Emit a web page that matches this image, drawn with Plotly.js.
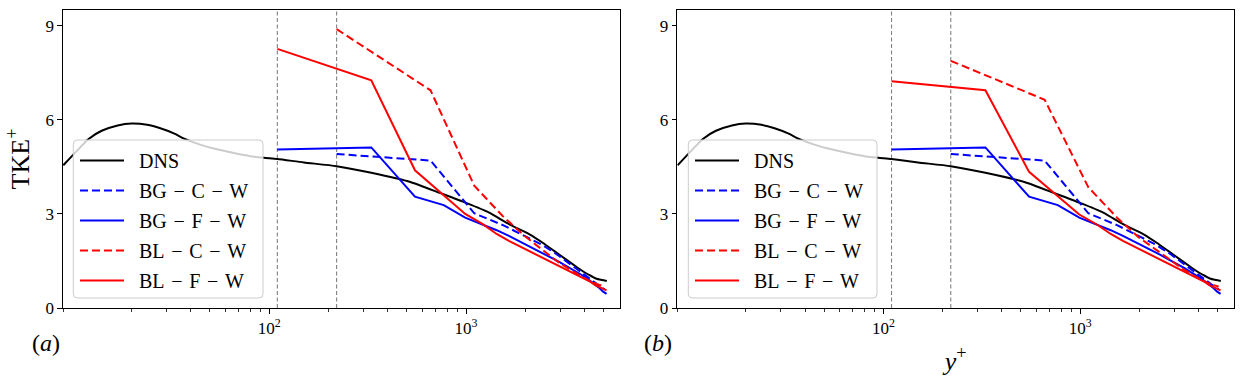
<!DOCTYPE html>
<html>
<head>
<meta charset="utf-8">
<script src="https://cdn.plot.ly/plotly-3.0.1.min.js"></script>
<style>
  html, body { margin: 0; padding: 0; background: #fff; }
  #chart { width: 1245px; height: 384px; }
</style>
</head>
<body>
<div id="chart"></div>
<script>
// ---------------- data ----------------
// DNS profile (shared by both panels)
const dnsYplus = [9.0, 10.7, 12.1, 14.1, 17, 20, 24, 28, 33, 37, 45, 55, 67, 80, 94, 110, 150, 220, 330, 525, 734, 1000, 1310, 1600, 1790, 2100, 2450, 2800, 3200, 3600, 3900, 4200, 4560, 4900, 5186];
const dnsTKE   = [4.55, 5.05, 5.39, 5.65, 5.82, 5.88, 5.84, 5.73, 5.56, 5.40, 5.20, 5.05, 4.93, 4.84, 4.79, 4.75, 4.64, 4.52, 4.31, 4.01, 3.67, 3.35, 3.04, 2.72, 2.56, 2.35, 2.08, 1.82, 1.56, 1.33, 1.18, 1.06, 0.94, 0.89, 0.86];

// wall-model grid locations (fine: F, coarse: C)
const fineYplus   = [110, 330, 550, 770, 990, 1210, 1430, 1650, 1870, 2090, 2310, 2530, 2750, 2970, 3190, 3410, 3630, 3850, 4070, 4290, 4510, 4730, 4950, 5170];
const coarseYplus = [220, 660, 1100, 1540, 1980, 2420, 2860, 3300, 3740, 4180, 4620, 5060];

// BG models (same in both panels)
const bgCW = [4.91, 4.70, 3.02, 2.64, 2.30, 2.02, 1.73, 1.45, 1.20, 0.97, 0.76, 0.59];
const bgFW = [5.05, 5.12, 3.55, 3.28, 2.88, 2.67, 2.48, 2.30, 2.13, 1.98, 1.84, 1.71, 1.58, 1.47, 1.36, 1.26, 1.15, 1.06, 0.96, 0.86, 0.76, 0.65, 0.53, 0.45];

// BL models, panel (a)
const blCW_a = [8.89, 6.94, 3.90, 2.92, 2.30, 1.86, 1.52, 1.26, 1.05, 0.88, 0.76, 0.68];
const blFW_a = [8.26, 7.26, 4.39, 3.58, 3.00, 2.68, 2.36, 2.14, 1.97, 1.82, 1.68, 1.56, 1.44, 1.34, 1.24, 1.15, 1.06, 0.98, 0.90, 0.83, 0.74, 0.67, 0.60, 0.56];

// BL models, panel (b)
const blCW_b = [7.88, 6.64, 3.85, 2.88, 2.26, 1.86, 1.52, 1.26, 1.05, 0.88, 0.76, 0.68];
const blFW_b = [7.23, 6.94, 4.34, 3.55, 2.98, 2.67, 2.36, 2.14, 1.97, 1.82, 1.68, 1.56, 1.44, 1.34, 1.24, 1.15, 1.06, 0.98, 0.90, 0.83, 0.74, 0.67, 0.60, 0.56];

// reference lines (first fine / first coarse cell)
const refLinesYplus = [110, 220];

// labels and ticks
const seriesNames = ['DNS', 'BG\u2004\u2212\u2004C\u2004\u2212\u2004W', 'BG\u2004\u2212\u2004F\u2004\u2212\u2004W', 'BL\u2004\u2212\u2004C\u2004\u2212\u2004W', 'BL\u2004\u2212\u2004F\u2004\u2212\u2004W'];
const xTickVals = [100, 1000];
const xTickText = ['10<sup>2</sup>', '10<sup>3</sup>'];
const xMinorVals = [9, 20, 30, 40, 50, 60, 70, 80, 90, 200, 300, 400, 500, 600, 700, 800, 900, 2000, 3000, 4000, 5000];
const yTickVals = [0, 3, 6, 9];
const panelLabels = ['(<i>a</i>)', '(<i>b</i>)'];

// ---------------- layout geometry ----------------
const W = 1245, H = 384;
const M = { l: 63, r: 11, t: 10, b: 76 };
const PW = W - M.l - M.r, PH = H - M.t - M.b;
const px2x = px => (px - M.l) / PW;
const py2y = py => (M.t + PH - py) / PH;
const FONT = 'Liberation Serif, DejaVu Serif, serif';
const BLUE = '#0000ff', RED = '#ff0000', BLACK = '#000000';
const DASH = '8px,4px';

function roundRect(x0, y0, x1, y1, r) {
  const X = px2x, Y = py2y;
  return `M ${X(x0 + r)},${Y(y0)} L ${X(x1 - r)},${Y(y0)} Q ${X(x1)},${Y(y0)} ${X(x1)},${Y(y0 + r)} ` +
         `L ${X(x1)},${Y(y1 - r)} Q ${X(x1)},${Y(y1)} ${X(x1 - r)},${Y(y1)} ` +
         `L ${X(x0 + r)},${Y(y1)} Q ${X(x0)},${Y(y1)} ${X(x0)},${Y(y1 - r)} ` +
         `L ${X(x0)},${Y(y0 + r)} Q ${X(x0)},${Y(y0)} ${X(x0 + r)},${Y(y0)} Z`;
}

function panelTraces(xa, ya, leg, blCW, blFW) {
  const tr = [];
  refLinesYplus.forEach(v => {
    tr.push({ x: [v, v], y: [0, 9.5], xaxis: xa, yaxis: ya, mode: 'lines',
      line: { color: '#808080', width: 1.1, dash: '4px,2.5px' }, showlegend: false, hoverinfo: 'skip' });
  });
  const specs = [
    [dnsYplus, dnsTKE, BLACK, 'solid'],
    [coarseYplus, bgCW, BLUE, DASH],
    [fineYplus, bgFW, BLUE, 'solid'],
    [coarseYplus, blCW, RED, DASH],
    [fineYplus, blFW, RED, 'solid']
  ];
  specs.forEach((s, i) => {
    tr.push({ x: s[0], y: s[1], xaxis: xa, yaxis: ya, mode: 'lines', name: '\u2002' + seriesNames[i],
      legend: leg, legendgroup: leg + i,
      line: { color: s[2], width: 2, dash: s[3], shape: i === 0 ? 'spline' : 'linear', smoothing: 0.6 } });
  });
  return tr;
}

const data = [].concat(
  panelTraces('x', 'y', 'legend', blCW_a, blFW_a),
  panelTraces('x2', 'y2', 'legend2', blCW_b, blFW_b)
);

const xRange = [Math.log10(8.97), Math.log10(6050)];
function xAxis(domain, anchor, title) {
  const ax = {
    type: 'log', range: xRange, domain: domain, anchor: anchor,
    tickmode: 'array', tickvals: xTickVals, ticktext: xTickText,
    ticks: 'outside', ticklen: 4.5, tickwidth: 1, tickcolor: BLACK,
    minor: { tickmode: 'array', tickvals: xMinorVals, ticks: 'outside', ticklen: 2.5, tickwidth: 0.8, tickcolor: BLACK, showgrid: false },
    showline: true, mirror: true, linecolor: BLACK, linewidth: 1.2,
    showgrid: false, zeroline: false,
    tickfont: { family: FONT, size: 17, color: BLACK }
  };
  if (title) ax.title = { text: title, font: { family: FONT, size: 26, color: BLACK }, standoff: 14 };
  return ax;
}
function yAxis(anchor, title) {
  const ax = {
    range: [0, 9.5], anchor: anchor,
    tickmode: 'array', tickvals: yTickVals,
    ticks: 'outside', ticklen: 4.5, tickwidth: 1, tickcolor: BLACK,
    showline: true, mirror: true, linecolor: BLACK, linewidth: 1.2,
    showgrid: false, zeroline: false,
    tickfont: { family: FONT, size: 17, color: BLACK }
  };
  if (title) ax.title = { text: title, font: { family: FONT, size: 26, color: BLACK }, standoff: 8 };
  return ax;
}

const legendCommon = {
  bgcolor: 'rgba(0,0,0,0)', borderwidth: 0,
  font: { family: FONT, size: 20, color: BLACK },
  itemwidth: 44, tracegroupgap: 1, traceorder: 'grouped',
  xanchor: 'left', yanchor: 'top', valign: 'middle'
};

const layout = {
  width: W, height: H,
  margin: M,
  paper_bgcolor: '#ffffff', plot_bgcolor: '#ffffff',
  showlegend: true,
  font: { family: FONT, color: BLACK },
  xaxis: xAxis([0, px2x(620)], 'y', null),
  yaxis: yAxis('x', 'TKE<sup>+</sup>'),
  xaxis2: xAxis([px2x(677.3), 1], 'y2', '<i>y</i><sup>+</sup>'),
  yaxis2: yAxis('x2', null),
  legend: Object.assign({}, legendCommon, { x: px2x(75), y: py2y(141) }),
  legend2: Object.assign({}, legendCommon, { x: px2x(690), y: py2y(141) }),
  shapes: [
    { type: 'path', xref: 'paper', yref: 'paper', layer: 'above', path: roundRect(73.3, 140, 263, 298, 4),
      fillcolor: 'rgba(255,255,255,0.8)', line: { color: '#cccccc', width: 1 } },
    { type: 'path', xref: 'paper', yref: 'paper', layer: 'above', path: roundRect(688.3, 140, 877, 298, 4),
      fillcolor: 'rgba(255,255,255,0.8)', line: { color: '#cccccc', width: 1 } }
  ],
  annotations: [
    { text: panelLabels[0], xref: 'paper', yref: 'paper', x: px2x(46), y: py2y(343), xanchor: 'center', yanchor: 'middle',
      showarrow: false, font: { family: FONT, size: 24, color: BLACK } },
    { text: panelLabels[1], xref: 'paper', yref: 'paper', x: px2x(658), y: py2y(343), xanchor: 'center', yanchor: 'middle',
      showarrow: false, font: { family: FONT, size: 24, color: BLACK } }
  ]
};

Plotly.newPlot('chart', data, layout, { staticPlot: true, displayModeBar: false });
</script>
</body>
</html>
